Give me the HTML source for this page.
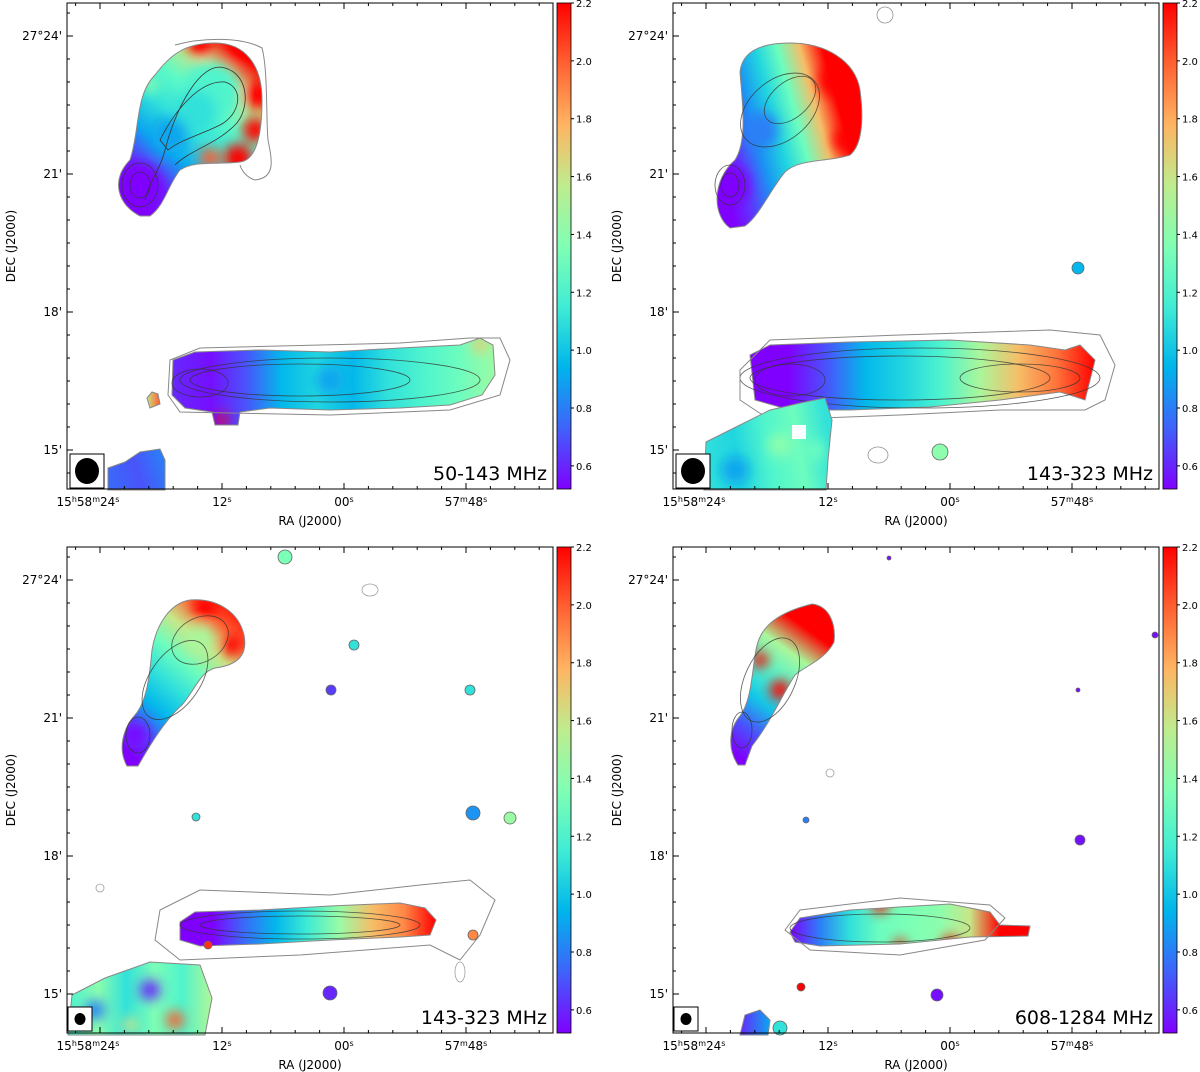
<!DOCTYPE html>
<html><head><meta charset="utf-8"><style>
html,body{margin:0;padding:0;background:#fff;}
svg{display:block;font-family:"DejaVu Sans","Liberation Sans",sans-serif;}
</style></head><body>
<svg id="fig" width="1200" height="1072" viewBox="0 0 1200 1072" xmlns="http://www.w3.org/2000/svg">
<defs>
<filter id="blur6" x="-50%" y="-50%" width="200%" height="200%"><feGaussianBlur stdDeviation="6"/></filter>
<filter id="blur3" x="-50%" y="-50%" width="200%" height="200%"><feGaussianBlur stdDeviation="3"/></filter>
</defs>
</svg>
<script>
// ---- data arrays ----
const raTickLabels = ["15h58m24s","12s","00s","57m48s"];
const raTickSeconds = [24, 12, 0, -12];
const decTickLabels = ["27°24'","21'","18'","15'"];
const decTickArcmin = [24, 21, 18, 15];
const cbarTicks = [0.6, 0.8, 1.0, 1.2, 1.4, 1.6, 1.8, 2.0, 2.2];
const panelLabels = ["50-143 MHz","143-323 MHz","143-323 MHz","608-1284 MHz"];
const vmin = 0.52, vmax = 2.2;

const NS = "http://www.w3.org/2000/svg";
const svg = document.getElementById('fig');
const defs = svg.querySelector('defs');
function el(tag, attrs, parent){ const e=document.createElementNS(NS,tag); for(const k in attrs) e.setAttribute(k,attrs[k]); (parent||svg).appendChild(e); return e; }
function cmap(v){
  let x=(v-vmin)/(vmax-vmin); x=Math.max(0,Math.min(1,x));
  const c=t=>Math.round(255*Math.max(0,Math.min(1,t)));
  return `rgb(${c(Math.abs(2*x-0.5))},${c(Math.sin(Math.PI*x))},${c(Math.cos(Math.PI/2*x))})`;
}
let gid=0;
function grad(x1,y1,x2,y2,vals){
  const id='g'+(gid++);
  const g=el('linearGradient',{id:id,gradientUnits:'userSpaceOnUse',x1:x1,y1:y1,x2:x2,y2:y2},defs);
  vals.forEach((v,i)=>el('stop',{offset:(i/(vals.length-1)),'stop-color':cmap(v)},g));
  return id;
}
function source(name, d, gx, vals, spots, layer){
  const id='c'+(gid++);
  const cp=el('clipPath',{id:id},defs); el('path',{d:d},cp);
  const grp=el('g',{'clip-path':`url(#${id})`},layer);
  
  
  const gi=grad(gx[0],gx[1],gx[2],gx[3],vals);
  el('path',{d:d,fill:`url(#${gi})`},grp);
  const sg=el('g',{filter:'url(#blur6)'},grp);
  (spots||[]).forEach(s=>el('circle',{cx:s[0],cy:s[1],r:s[2],fill:cmap(s[3])},sg));
  el('path',{d:d,fill:'none',stroke:'#888','stroke-width':1},layer);
}
function dot(x,y,r,v,layer){ el('circle',{cx:x,cy:y,r:r,fill:cmap(v),stroke:'#666','stroke-width':0.8},layer); }
function contour(cx,cy,rx,ry,rot,layer,col){ el('ellipse',{cx:cx,cy:cy,rx:rx,ry:ry,transform:`rotate(${rot} ${cx} ${cy})`,fill:'none',stroke:col||'#333','stroke-width':0.8,opacity:0.8},layer); }

const panels=[{x:67,y:3},{x:673,y:3},{x:67,y:547},{x:673,y:547}];
const W=486,H=486;
function raX(p,s){ return p.x+33 + (24-s)*(122/12); }
function decY(p,a){ return p.y+33 + (24-a)*(138/3); }

panels.forEach((p,pi)=>{
  const g=el('g',{});
  
  
  p.g=g;
});

// Panel 1
(function(){
  const L=panels[0].g;
  source('north-lobe-1',"M140,216 C118,205 110,180 130,160 C140,130 135,95 155,75 C170,55 185,43 215,43 C245,43 262,65 262,100 C262,130 258,160 240,162 C215,165 195,160 180,170 C168,185 165,205 150,216 Z",
    [130,200,250,60],[0.5,0.6,0.9,1.1,1.25,1.6,2.2],[[210,92,30,1.2],[195,112,22,1.1],[170,135,18,0.9],[140,185,22,0.5],[258,95,14,2.2],[255,130,12,2.2],[238,158,14,2.2],[210,158,10,2.0],[200,45,12,2.2],[240,50,12,2.2],[150,85,8,1.4]],L);
  contour(140,185,18,22,0,L); contour(140,185,10,13,0,L);
  el('path',{d:"M145,200 C150,180 160,170 165,150 C175,110 200,60 225,68 C250,75 250,110 235,125 C215,145 190,150 175,165",fill:'none',stroke:'#333','stroke-width':0.8},L);
  el('path',{d:"M160,140 C175,110 200,80 225,82 C245,88 240,115 220,125 C200,135 180,140 168,150 Z",fill:'none',stroke:'#333','stroke-width':0.8},L);
  el('path',{d:"M175,45 C200,38 240,36 262,48 C268,70 266,120 268,140 C272,160 276,178 255,180 C248,178 242,172 240,165",fill:'none',stroke:'#888','stroke-width':1},L);
  source('south-tail-1',"M173,360 L195,352 L260,350 L330,352 L400,348 L460,345 L480,338 L493,345 L495,375 L482,395 L450,405 L400,408 L330,410 L270,408 L240,412 L238,425 L215,425 L212,412 L185,408 L172,395 Z",
    [175,380,495,380],[0.6,0.55,0.7,0.95,1.05,0.95,1.1,1.2,1.3,1.45],[[222,420,6,2.2],[480,345,8,1.7],[330,380,14,0.9]],L);
  contour(200,383,28,14,0,L); contour(300,380,110,16,0,L); contour(330,380,150,22,0,L);
  el('path',{d:"M170,360 L200,348 L400,343 L470,338 L500,338 L510,360 L500,395 L450,410 L330,415 L180,412 L168,395 Z",fill:'none',stroke:'#888','stroke-width':1},L);
  source('bl-patch-1',"M108,490 L108,468 L125,462 L140,452 L160,449 L165,460 L165,490 Z",[108,480,165,460],[0.75,0.7,0.8],[],L);
  source('small-src-1',"M147,398 L152,392 L158,394 L160,404 L150,408 Z",[147,400,160,400],[1.6,2.0],[],L);
})();
// Panel 2
(function(){
  const L=panels[1].g;
  source('north-lobe-2',"M730,228 C712,215 712,180 735,160 C748,140 742,100 740,72 C742,52 760,43 790,43 C825,43 855,60 860,90 C864,120 862,145 850,155 C830,162 800,158 785,172 C770,190 760,215 745,226 Z",
    [715,150,862,110],[0.5,0.65,0.85,1.05,1.3,1.75,2.2,2.2],[[730,185,20,0.5],[760,130,18,0.8],[835,80,16,2.2],[845,140,12,2.2]],L);
  contour(730,185,15,20,0,L); contour(730,185,9,12,0,L);
  contour(780,110,45,30,-40,L); contour(790,100,30,18,-40,L);
  source('south-tail-2',"M750,355 L770,345 L850,342 L950,340 L1030,345 L1065,350 L1080,345 L1095,360 L1090,380 L1085,400 L1070,395 L1060,392 L1000,400 L930,407 L850,410 L790,410 L755,400 Z",
    [750,375,1095,375],[0.52,0.5,0.7,0.95,1.05,1.2,1.5,1.75,1.95,2.2],[],L);
  contour(790,380,35,16,0,L); contour(900,378,150,22,0,L); contour(920,378,180,30,0,L); contour(1020,378,60,14,0,L);
  el('path',{d:"M740,370 L770,340 L900,335 L1050,330 L1100,335 L1115,365 L1105,400 L1085,410 L1000,410 L900,415 L770,420 L740,400 Z",fill:'none',stroke:'#888','stroke-width':1},L);
  source('bl-patch-2',"M704,490 L706,442 L740,425 L770,410 L805,402 L825,398 L832,420 L828,460 L826,490 Z",
    [705,460,830,440],[1.1,1.05,1.2,1.3,1.1],[[735,470,14,0.9],[780,445,12,1.4],[815,450,10,1.3]],L);
  el('rect',{x:792,y:425,width:14,height:14,fill:'#fff'},L);
  dot(1078,268,6,0.95,L); dot(940,452,8,1.4,L);
  contour(885,15,8,8,0,L,'#777'); contour(878,455,10,8,0,L,'#777');
})();
// Panel 3
(function(){
  const L=panels[2].g;
  source('north-lobe-3',"M127,766 C118,750 122,730 135,715 C148,700 150,670 152,650 C156,625 170,603 190,600 C215,598 238,610 244,635 C248,655 238,665 215,668 C200,672 195,690 182,705 C165,720 150,745 138,766 Z",
    [125,750,245,610],[0.5,0.7,0.95,1.1,1.3,1.6,2.0,2.2],[[135,735,14,0.55],[200,640,15,1.5],[232,645,10,2.2],[205,608,12,2.2]],L);
  contour(138,735,12,18,0,L); contour(175,680,45,25,-55,L); contour(200,640,30,22,-30,L);
  source('south-tail-3',"M180,922 L195,912 L260,910 L330,906 L400,903 L425,908 L436,920 L430,935 L400,937 L330,940 L260,944 L200,946 L180,940 Z",
    [180,925,436,925],[0.5,0.52,0.75,0.95,1.15,1.45,1.75,1.9,2.2],[],L);
  contour(300,925,120,14,0,L); contour(300,925,100,9,0,L);
  el('path',{d:"M160,910 L200,890 L330,895 L420,885 L470,880 L495,900 L480,935 L460,960 L430,945 L300,955 L180,960 L155,940 Z",fill:'none',stroke:'#888','stroke-width':1},L);
  source('bl-patch-3',"M68,1035 L72,995 L105,978 L150,962 L200,965 L212,998 L205,1035 Z",
    [70,1000,210,1000],[1.2,1.4,1.1,1.35,1.2,1.5],[[95,1010,10,0.8],[150,990,10,0.6],[175,1020,9,2.0],[130,1025,8,1.6]],L);
  dot(285,557,7,1.35,L); dot(331,690,5,0.65,L); dot(354,645,5,1.1,L); dot(470,690,5,1.1,L);
  dot(473,813,7,0.85,L); dot(510,818,6,1.45,L); dot(196,817,4,1.1,L); dot(330,993,7,0.6,L);
  dot(208,945,4,2.1,L); dot(473,935,5,1.9,L);
  contour(370,590,8,6,0,L,'#888'); contour(100,888,4,4,0,L,'#888'); contour(460,972,5,10,0,L,'#888');
})();
// Panel 4
(function(){
  const L=panels[3].g;
  source('north-lobe-4',"M738,765 C728,750 728,730 740,716 C752,700 752,670 756,650 C760,625 780,612 812,604 C830,606 836,625 834,642 C825,660 805,666 795,675 C782,695 772,720 752,746 L745,765 Z",
    [730,750,830,610],[0.5,0.7,1.0,1.2,1.5,2.2,2.2],[[780,690,10,2.2],[760,660,8,2.2],[745,640,6,2.2]],L);
  contour(742,730,10,18,0,L); contour(770,680,25,45,25,L);
  source('south-tail-4',"M790,932 L800,918 L850,910 L950,904 L990,912 L1000,925 L1030,926 L1028,936 L970,937 L900,944 L820,946 L795,942 Z",
    [790,930,1030,930],[0.5,0.8,1.1,1.3,1.35,1.4,1.6,2.2,2.2],[[880,905,8,2.2],[950,944,8,2.2],[900,945,6,2.2]],L);
  contour(880,928,90,14,0,L);
  el('path',{d:"M785,930 L800,910 L900,898 L990,905 L1005,918 L985,940 L900,955 L810,950 Z",fill:'none',stroke:'#888','stroke-width':1},L);
  dot(801,987,4,2.2,L); dot(937,995,6,0.55,L); dot(1080,840,5,0.55,L); dot(889,558,2,0.55,L);
  dot(1155,635,3,0.55,L); dot(806,820,3,0.8,L); dot(1078,690,2,0.55,L);
  source('bl-patch-4',"M740,1035 L745,1015 L760,1010 L770,1020 L768,1035 Z",[740,1025,770,1025],[0.6,0.9],[],L);
  dot(780,1028,7,1.1,L);
  contour(830,773,4,4,0,L,'#888');
})();

// ---- axes, colorbars, labels ----
panels.forEach((p,pi)=>{
  const g=p.g;
  const fr=el('rect',{x:p.x,y:p.y,width:W,height:H,fill:'none',stroke:'#000','stroke-width':1},g);
  
  
  for(let s=26.4;s>=-24;s-=2.4){
    const x=raX(p,s); if(x<p.x+2||x>p.x+W-2) continue;
    const major=raTickSeconds.some(v=>Math.abs(v-s)<0.01);
    const len=major?6:3;
    el('line',{x1:x,y1:p.y+H,x2:x,y2:p.y+H-len,stroke:'#000'},g);
    el('line',{x1:x,y1:p.y,x2:x,y2:p.y+len,stroke:'#000'},g);
  }
  raTickSeconds.forEach((s,i)=>{
    const t=el('text',{x:raX(p,s),y:p.y+H+17,'font-size':12,'text-anchor':'middle'},g);
    const lbl=raTickLabels[i];
    if(i===0){ t.innerHTML='15<tspan dy="-4" font-size="8">h</tspan><tspan dy="4">58</tspan><tspan dy="-4" font-size="8">m</tspan><tspan dy="4">24</tspan><tspan dy="-4" font-size="8">s</tspan>'; t.setAttribute('x',raX(p,s)-12); }
    else if(i===3){ t.innerHTML='57<tspan dy="-4" font-size="8">m</tspan><tspan dy="4">48</tspan><tspan dy="-4" font-size="8">s</tspan>'; }
    else { t.innerHTML=lbl.replace('s','')+'<tspan dy="-4" font-size="8">s</tspan>'; }
    
    
  });
  for(let a=24.5;a>=13.5;a-=0.5){
    const y=decY(p,a); if(y<p.y+2||y>p.y+H-2) continue;
    const major=decTickArcmin.some(v=>Math.abs(v-a)<0.01);
    el('line',{x1:p.x,y1:y,x2:p.x+(major?6:3),y2:y,stroke:'#000'},g);
  }
  decTickArcmin.forEach((a,i)=>{
    const t=el('text',{x:p.x-5,y:decY(p,a)+4,'font-size':12,'text-anchor':'end'},g);
    t.textContent=decTickLabels[i];
    
    
  });
  const xl=el('text',{x:p.x+W/2,y:p.y+H+36,'font-size':12,'text-anchor':'middle'},g);
  xl.textContent='RA (J2000)';
  
  
  const yl=el('text',{x:0,y:0,'font-size':12,'text-anchor':'middle',transform:`translate(${p.x-52},${p.y+H/2}) rotate(-90)`},g);
  yl.textContent='DEC (J2000)';
  
  
  const pl=el('text',{x:p.x+W-6,y:p.y+H-9,'font-size':19,'text-anchor':'end'},g);
  pl.textContent=panelLabels[pi];
  
  
  const big=pi<2;
  const bs=big?34:24;
  const bx=p.x+(big?3:1), by=p.y+H-bs-(big?1:2);
  el('rect',{x:bx,y:by,width:bs,height:bs,fill:'#fff',stroke:'#000'},g);
  const bm=el('ellipse',{cx:bx+bs/2,cy:by+bs/2,rx:big?12:5.5,ry:big?13:6,fill:'#000'},g);
  
  
  const cx=p.x+W+4, cw=14;
  const cg=grad(0,p.y+H,0,p.y,[0.52,0.73,0.94,1.15,1.36,1.57,1.78,1.99,2.2]);
  const cb=el('rect',{x:cx,y:p.y,width:cw,height:H,fill:`url(#${cg})`,stroke:'#000','stroke-width':0.8},g);
  
  
  cbarTicks.forEach(v=>{
    const y=p.y+H-(v-vmin)/(vmax-vmin)*H;
    el('line',{x1:cx+cw,y1:y,x2:cx+cw+3,y2:y,stroke:'#000'},g);
    const t=el('text',{x:cx+cw+5,y:y+4,'font-size':10},g);
    t.textContent=v.toFixed(1);
    
    
  });
});
</script>
</body></html>
